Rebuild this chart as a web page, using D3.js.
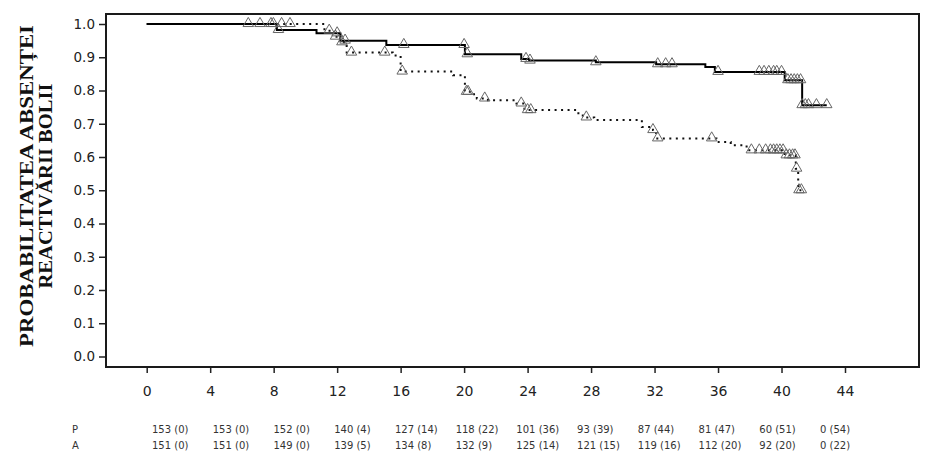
<!DOCTYPE html>
<html>
<head>
<meta charset="utf-8">
<script src="https://cdn.jsdelivr.net/npm/d3@7"></script>
<style>
  body { margin: 0; background: #fff; }
  svg { display: block; }
  .tick text { font-family: "DejaVu Sans", sans-serif; fill: #222; }
</style>
</head>
<body>
<div id="chart"></div>
<script>
// Kaplan-Meier steps, group P (solid)
var pTimes = [0, 8.2, 10.7, 12.2, 15.1, 20.05, 23.6, 24.1, 28.3, 32.1, 35.2, 35.8, 40.2, 41.3, 42.85];
var pSurv  = [1, 0.982, 0.972, 0.95, 0.937, 0.909, 0.895, 0.89, 0.885, 0.879, 0.871, 0.856, 0.831, 0.756, 0.756];
// group A (dotted)
var aTimes = [0, 11.2, 11.8, 12.2, 12.6, 15.5, 16.0, 19.3, 20.05, 20.5, 20.8, 21.5, 23.3, 23.8, 27.2, 27.6, 28.2,
              31.2, 31.9, 32.1, 35.9, 36.8, 37.8, 40.2, 40.9, 41.05, 41.25];
var aSurv  = [1, 0.98, 0.962, 0.945, 0.914, 0.905, 0.857, 0.846, 0.796, 0.789, 0.776, 0.771, 0.761, 0.741, 0.725, 0.719, 0.711,
              0.69, 0.681, 0.656, 0.645, 0.635, 0.62, 0.605, 0.565, 0.5, 0.5];

// censored observations (months)
var pCens = [6.4, 7.14, 7.83, 8.3, 12.0, 12.5, 16.2, 20.0, 20.2, 23.9, 24.15, 28.3, 32.2, 32.7, 33.1, 36.0,
             38.6, 38.9, 39.2, 39.5, 39.7, 40.0, 40.4, 40.6, 40.8, 41.0, 41.2, 41.3, 41.5, 41.7, 42.2, 42.85];
var aCens = [7.98, 8.5, 9.03, 11.5, 11.9, 12.3, 12.9, 15.0, 16.1, 20.15, 20.25, 21.3, 23.6, 24.0, 24.2, 27.7,
             31.9, 32.2, 35.6, 38.1, 38.6, 39.0, 39.3, 39.5, 39.7, 39.9, 40.1, 40.3, 40.5, 40.7, 40.85, 40.95, 41.1, 41.25];

var xTicks = [0, 4, 8, 12, 16, 20, 24, 28, 32, 36, 40, 44];
var yTicks = [0, 0.1, 0.2, 0.3, 0.4, 0.5, 0.6, 0.7, 0.8, 0.9, 1.0];

// numbers at risk (events)
var riskP = ["153 (0)", "153 (0)", "152 (0)", "140 (4)", "127 (14)", "118 (22)", "101 (36)", "93 (39)", "87 (44)", "81 (47)", "60 (51)", "0 (54)"];
var riskA = ["151 (0)", "151 (0)", "149 (0)", "139 (5)", "134 (8)", "132 (9)", "125 (14)", "121 (15)", "119 (16)", "112 (20)", "92 (20)", "0 (22)"];

var yTitle = ["PROBABILITATEA ABSENȚEI", "REACTIVĂRII BOLII"];

var W = 932, H = 453;
var frame = { left: 106, right: 919, top: 14, bottom: 367 };

var svg = d3.select("#chart").append("svg")
  .attr("width", W)
  .attr("height", H);

var x = d3.scaleLinear().domain([0, 44]).range([146.7, 845]);
var y = d3.scaleLinear().domain([0, 1]).range([356.5, 24]);
var riskX = d3.scaleLinear().domain([0, 44]).range([152, 820]);

// axes
var yAxis = d3.axisLeft(y)
  .tickValues(yTicks)
  .tickFormat(d3.format(".1f"))
  .tickSize(7)
  .tickPadding(4);

svg.append("g")
  .attr("transform", "translate(" + frame.left + ",0)")
  .call(yAxis)
  .call(function (g) { g.select(".domain").remove(); })
  .call(function (g) {
    g.selectAll("line").attr("stroke", "#222").attr("stroke-width", 1.5);
    g.selectAll("text").attr("font-size", 13.5);
  });

var xAxis = d3.axisBottom(x)
  .tickValues(xTicks)
  .tickSize(6)
  .tickPadding(13);

svg.append("g")
  .attr("transform", "translate(0," + frame.bottom + ")")
  .call(xAxis)
  .call(function (g) { g.select(".domain").remove(); })
  .call(function (g) {
    g.selectAll("line").attr("stroke", "#222").attr("stroke-width", 1.5);
    g.selectAll("text").attr("font-size", 14);
  });

// frame
svg.append("rect")
  .attr("x", frame.left)
  .attr("y", frame.top)
  .attr("width", frame.right - frame.left)
  .attr("height", frame.bottom - frame.top)
  .attr("fill", "none")
  .attr("stroke", "#1a1a1a")
  .attr("stroke-width", 2);

// curves
function steps(times, surv) {
  return times.map(function (t, i) { return [t, surv[i]]; });
}
function survAt(times, surv, t) {
  var i = d3.bisectRight(times, t) - 1;
  return surv[Math.max(0, i)];
}

var line = d3.line()
  .x(function (d) { return x(d[0]); })
  .y(function (d) { return y(d[1]); })
  .curve(d3.curveStepAfter);

svg.append("path")
  .datum(steps(aTimes, aSurv))
  .attr("d", line)
  .attr("fill", "none")
  .attr("stroke", "#111")
  .attr("stroke-width", 2)
  .attr("stroke-dasharray", "2,4.5");

svg.append("path")
  .datum(steps(pTimes, pSurv))
  .attr("d", line)
  .attr("fill", "none")
  .attr("stroke", "#000")
  .attr("stroke-width", 2);

// censor marks
var tri = d3.symbol().type(d3.symbolTriangle).size(48);

function marks(cens, times, surv) {
  svg.append("g")
    .selectAll("path")
    .data(cens)
    .enter().append("path")
      .attr("d", tri)
      .attr("transform", function (t) {
        return "translate(" + x(t) + "," + (y(survAt(times, surv, t)) - 0.5) + ")";
      })
      .attr("fill", "none")
      .attr("stroke", "#666")
      .attr("stroke-width", 1);
}
marks(pCens, pTimes, pSurv);
marks(aCens, aTimes, aSurv);

// y axis title, two lines
var titleX = [33, 52];
var titleLen = [322, 205];
yTitle.forEach(function (t, i) {
  svg.append("text")
    .attr("transform", "translate(" + titleX[i] + ",186) rotate(-90)")
    .attr("text-anchor", "middle")
    .attr("font-family", "'Liberation Serif', 'Times New Roman', serif")
    .attr("font-weight", "bold")
    .attr("font-size", 19.5)
    .attr("fill", "#111")
    .attr("textLength", titleLen[i])
    .attr("lengthAdjust", "spacingAndGlyphs")
    .text(t);
});

// numbers at risk
var rows = [["P", riskP, 433], ["A", riskA, 449]];
rows.forEach(function (r) {
  var g = svg.append("g")
    .attr("font-family", "'DejaVu Sans', sans-serif")
    .attr("font-size", 10)
    .attr("fill", "#333");
  g.append("text")
    .attr("x", 72)
    .attr("y", r[2])
    .text(r[0]);
  g.selectAll("text.n")
    .data(r[1])
    .enter().append("text")
      .attr("class", "n")
      .attr("x", function (d, i) { return riskX(xTicks[i]); })
      .attr("y", r[2])
      .text(function (d) { return d; });
});
</script>
</body>
</html>
